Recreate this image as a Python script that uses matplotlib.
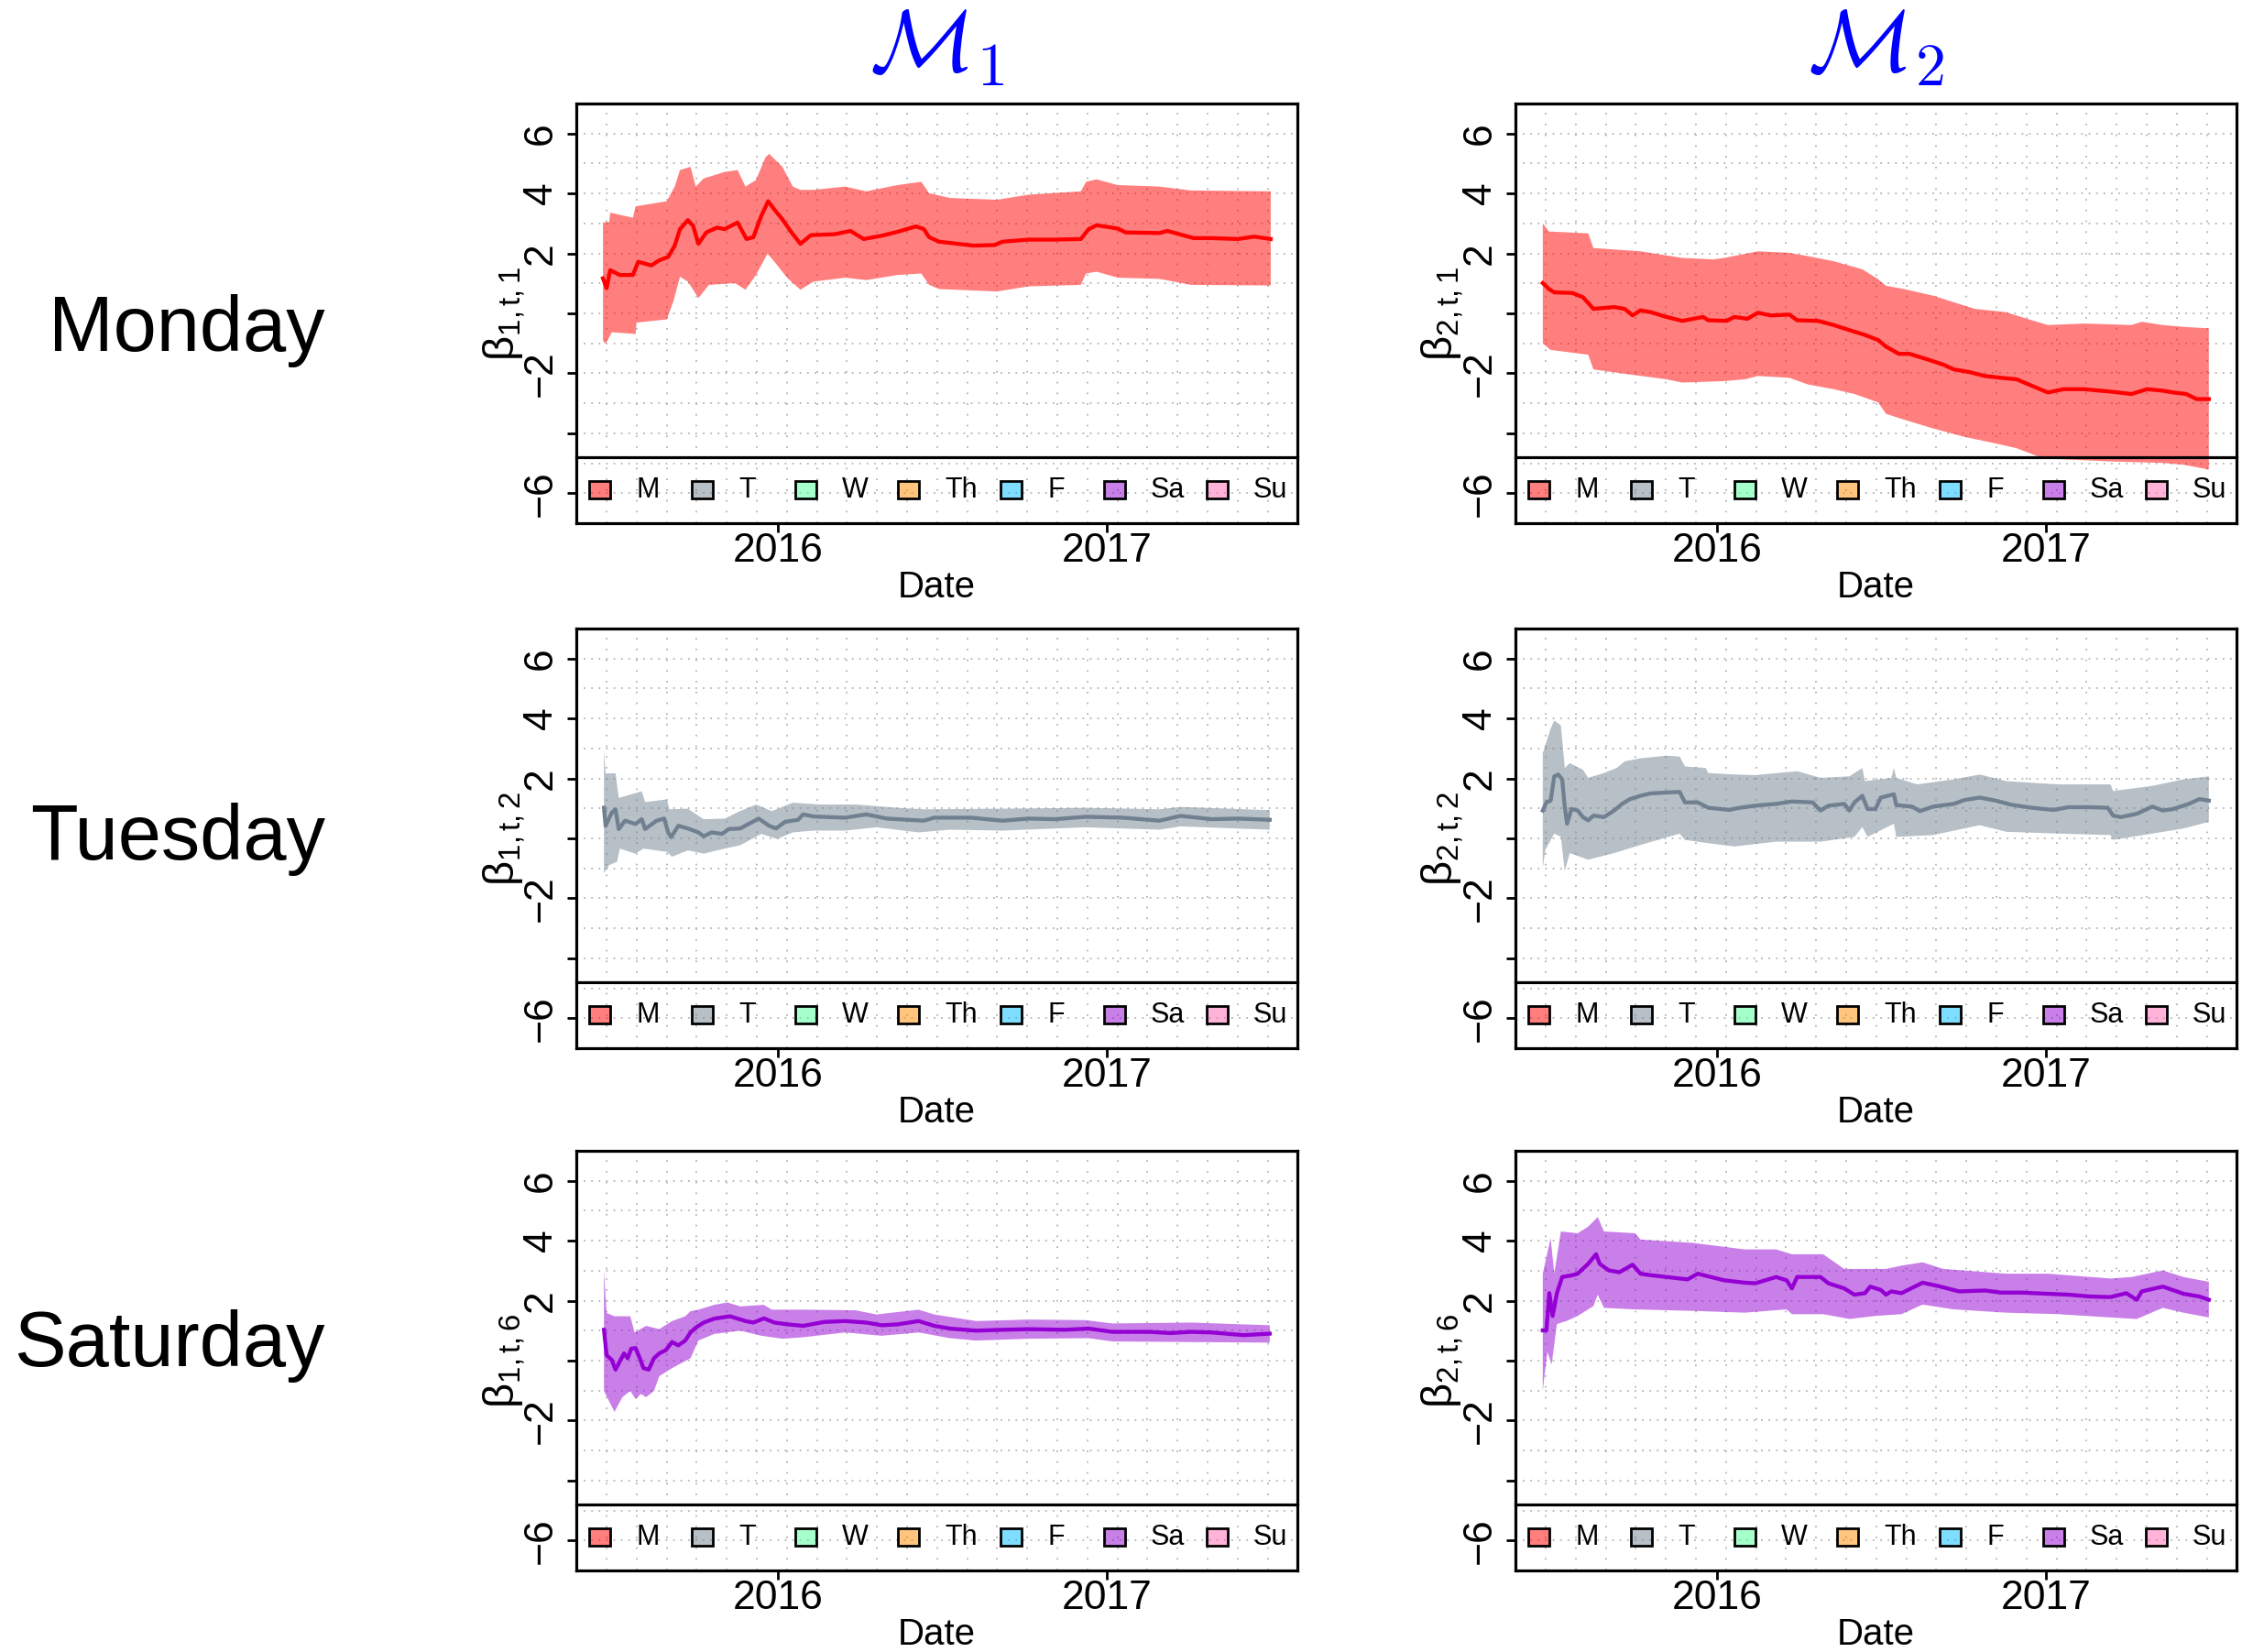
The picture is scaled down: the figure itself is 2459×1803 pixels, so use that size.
import numpy as np
import matplotlib
matplotlib.use("Agg")
import matplotlib.pyplot as plt
from matplotlib.patches import Rectangle

plt.rcParams['font.family'] = ['Liberation Sans', 'DejaVu Sans']
plt.rcParams['mathtext.fontset'] = 'custom'
plt.rcParams['mathtext.rm'] = 'Liberation Sans'
plt.rcParams['mathtext.it'] = 'Liberation Sans:italic'
plt.rcParams['axes.unicode_minus'] = True

# ---------------------------------------------------------------------------
# Posterior mean and 95% band of the day-of-week coefficients (time in years)
# ---------------------------------------------------------------------------

# Model 1, Monday
m1_mon_t = [2015.468, 2015.479, 2015.490, 2015.519, 2015.559, 2015.575, 2015.615, 2015.639,
            2015.666, 2015.686, 2015.702, 2015.726, 2015.742, 2015.758, 2015.782, 2015.814,
            2015.838, 2015.877, 2015.904, 2015.925, 2015.949, 2015.970, 2015.989, 2016.013,
            2016.041, 2016.068, 2016.100, 2016.172, 2016.220, 2016.260, 2016.315, 2016.363,
            2016.419, 2016.443, 2016.459, 2016.490, 2016.522, 2016.594, 2016.658, 2016.682,
            2016.761, 2016.841, 2016.920, 2016.944, 2016.968, 2017.032, 2017.056, 2017.159,
            2017.183, 2017.263, 2017.318, 2017.398, 2017.446, 2017.497]
m1_mon_mean = [1.17, 0.84, 1.44, 1.28, 1.28, 1.72, 1.60, 1.77,
               1.88, 2.26, 2.81, 3.11, 2.92, 2.32, 2.70, 2.86,
               2.81, 3.03, 2.48, 2.54, 3.25, 3.74, 3.46, 3.14,
               2.70, 2.32, 2.61, 2.64, 2.75, 2.48, 2.59, 2.72,
               2.90, 2.81, 2.54, 2.39, 2.35, 2.26, 2.28, 2.39,
               2.46, 2.46, 2.48, 2.81, 2.94, 2.83, 2.70, 2.68,
               2.75, 2.51, 2.51, 2.48, 2.56, 2.48]
m1_mon_hi_t = [2015.468, 2015.487, 2015.490, 2015.559, 2015.567, 2015.662, 2015.686, 2015.702,
               2015.734, 2015.750, 2015.774, 2015.838, 2015.877, 2015.901, 2015.933, 2015.962,
               2015.973, 2016.013, 2016.045, 2016.068, 2016.108, 2016.204, 2016.268, 2016.363,
               2016.435, 2016.459, 2016.522, 2016.666, 2016.761, 2016.920, 2016.936, 2016.968,
               2017.032, 2017.159, 2017.255, 2017.497]
m1_mon_hi = [3.03, 3.05, 3.36, 3.19, 3.57, 3.74, 4.23, 4.78,
             4.89, 4.23, 4.50, 4.72, 4.78, 4.23, 4.45, 5.21,
             5.32, 4.89, 4.23, 4.12, 4.12, 4.23, 4.07, 4.28,
             4.39, 4.01, 3.85, 3.79, 3.96, 4.07, 4.39, 4.47,
             4.28, 4.23, 4.10, 4.07]
m1_mon_lo_t = [2015.468, 2015.476, 2015.495, 2015.567, 2015.570, 2015.662, 2015.682, 2015.702,
               2015.726, 2015.758, 2015.790, 2015.869, 2015.901, 2015.933, 2015.968, 2015.989,
               2016.029, 2016.068, 2016.108, 2016.204, 2016.268, 2016.363, 2016.435, 2016.459,
               2016.490, 2016.666, 2016.761, 2016.920, 2016.936, 2016.968, 2017.032, 2017.159,
               2017.255, 2017.497]
m1_mon_lo = [-0.91, -1.02, -0.63, -0.69, -0.31, -0.20, 0.40, 1.22,
             1.06, 0.51, 0.95, 1.01, 0.79, 1.28, 1.99, 1.72,
             1.17, 0.79, 1.06, 1.19, 1.11, 1.28, 1.33, 0.95,
             0.81, 0.73, 0.90, 0.95, 1.33, 1.39, 1.19, 1.15,
             0.95, 0.93]

# Model 2, Monday
m2_mon_t = [2015.470, 2015.489, 2015.505, 2015.560, 2015.592, 2015.624, 2015.687, 2015.719,
            2015.743, 2015.767, 2015.798, 2015.846, 2015.894, 2015.957, 2015.973, 2016.029,
            2016.052, 2016.092, 2016.124, 2016.163, 2016.219, 2016.243, 2016.306, 2016.354,
            2016.402, 2016.449, 2016.489, 2016.513, 2016.552, 2016.584, 2016.640, 2016.687,
            2016.719, 2016.767, 2016.814, 2016.862, 2016.910, 2016.957, 2017.005, 2017.052,
            2017.116, 2017.163, 2017.195, 2017.259, 2017.306, 2017.354, 2017.386, 2017.425,
            2017.457, 2017.494]
m2_mon_mean = [1.01, 0.81, 0.70, 0.68, 0.54, 0.15, 0.21, 0.15,
               -0.07, 0.10, 0.04, -0.12, -0.25, -0.12, -0.23, -0.25,
               -0.12, -0.18, 0.02, -0.07, -0.04, -0.23, -0.25, -0.39,
               -0.56, -0.72, -0.89, -1.11, -1.35, -1.35, -1.54, -1.71,
               -1.87, -1.96, -2.09, -2.15, -2.20, -2.42, -2.64, -2.53,
               -2.53, -2.58, -2.61, -2.69, -2.53, -2.58, -2.64, -2.69,
               -2.86, -2.86]
m2_mon_hi_t = [2015.470, 2015.489, 2015.608, 2015.624, 2015.767, 2015.894, 2015.989, 2016.021,
               2016.124, 2016.219, 2016.275, 2016.354, 2016.441, 2016.489, 2016.513, 2016.568,
               2016.656, 2016.719, 2016.783, 2016.878, 2016.941, 2017.005, 2017.116, 2017.259,
               2017.290, 2017.354, 2017.417, 2017.494]
m2_mon_hi = [3.00, 2.73, 2.67, 2.18, 2.07, 1.85, 1.80, 1.85,
             2.07, 2.02, 1.91, 1.74, 1.47, 1.14, 0.92, 0.81,
             0.59, 0.37, 0.15, 0.04, -0.18, -0.39, -0.34, -0.39,
             -0.28, -0.39, -0.45, -0.50]
m2_mon_lo_t = [2015.470, 2015.494, 2015.608, 2015.624, 2015.735, 2015.846, 2015.894, 2016.021,
               2016.084, 2016.124, 2016.219, 2016.275, 2016.354, 2016.417, 2016.489, 2016.513,
               2016.560, 2016.656, 2016.751, 2016.846, 2016.910, 2016.989, 2017.037, 2017.195,
               2017.354, 2017.417, 2017.494]
m2_mon_lo = [-1.00, -1.22, -1.38, -1.87, -2.04, -2.20, -2.31, -2.26,
             -2.20, -2.09, -2.15, -2.37, -2.53, -2.69, -2.97, -3.35,
             -3.52, -3.84, -4.12, -4.34, -4.50, -4.83, -4.86, -4.94,
             -4.99, -5.05, -5.21]

# Model 1, Tuesday
m1_tue_t = [2015.471, 2015.476, 2015.495, 2015.506, 2015.516, 2015.535, 2015.567, 2015.586,
            2015.596, 2015.631, 2015.654, 2015.666, 2015.675, 2015.697, 2015.726, 2015.758,
            2015.774, 2015.798, 2015.830, 2015.850, 2015.885, 2015.941, 2015.973, 2015.994,
            2016.021, 2016.061, 2016.076, 2016.108, 2016.204, 2016.268, 2016.331, 2016.395,
            2016.443, 2016.475, 2016.586, 2016.682, 2016.761, 2016.841, 2016.936, 2017.048,
            2017.159, 2017.223, 2017.318, 2017.398, 2017.494]
m1_tue_mean = [1.02, 0.42, 0.86, 0.97, 0.31, 0.59, 0.48, 0.64,
               0.31, 0.59, 0.66, 0.20, 0.04, 0.42, 0.33, 0.20,
               0.07, 0.20, 0.15, 0.31, 0.33, 0.66, 0.42, 0.33,
               0.55, 0.62, 0.80, 0.73, 0.69, 0.80, 0.66, 0.62,
               0.59, 0.69, 0.69, 0.59, 0.66, 0.64, 0.72, 0.69,
               0.59, 0.75, 0.64, 0.66, 0.62]
m1_tue_hi_t = [2015.471, 2015.476, 2015.506, 2015.516, 2015.551, 2015.586, 2015.596, 2015.662,
               2015.670, 2015.726, 2015.774, 2015.838, 2015.885, 2015.933, 2015.981, 2016.045,
               2016.124, 2016.236, 2016.363, 2016.443, 2016.682, 2016.936, 2017.159, 2017.223,
               2017.494]
m1_tue_hi = [2.93, 2.17, 2.17, 1.35, 1.46, 1.57, 1.21, 1.30,
             0.97, 0.99, 0.64, 0.66, 0.91, 1.13, 0.91, 1.19,
             1.13, 1.13, 1.02, 0.97, 0.99, 1.02, 0.97, 1.05,
             0.94]
m1_tue_lo_t = [2015.471, 2015.487, 2015.511, 2015.519, 2015.567, 2015.591, 2015.662, 2015.678,
               2015.726, 2015.774, 2015.838, 2015.885, 2015.949, 2015.997, 2016.045, 2016.108,
               2016.204, 2016.299, 2016.427, 2016.522, 2016.682, 2016.936, 2017.159, 2017.223,
               2017.494]
m1_tue_lo = [-1.16, -0.89, -0.78, -0.34, -0.51, -0.34, -0.45, -0.61,
             -0.40, -0.51, -0.34, -0.23, 0.15, -0.02, 0.20, 0.26,
             0.26, 0.37, 0.20, 0.29, 0.26, 0.37, 0.29, 0.40,
             0.29]

# Model 2, Tuesday
m2_tue_t = [2015.470, 2015.481, 2015.494, 2015.505, 2015.517, 2015.529, 2015.537, 2015.544,
            2015.557, 2015.576, 2015.592, 2015.608, 2015.624, 2015.656, 2015.687, 2015.711,
            2015.735, 2015.767, 2015.798, 2015.846, 2015.886, 2015.902, 2015.941, 2015.973,
            2016.037, 2016.068, 2016.116, 2016.179, 2016.227, 2016.290, 2016.314, 2016.338,
            2016.386, 2016.402, 2016.417, 2016.441, 2016.457, 2016.481, 2016.497, 2016.537,
            2016.544, 2016.592, 2016.616, 2016.656, 2016.719, 2016.751, 2016.798, 2016.846,
            2016.894, 2016.957, 2017.021, 2017.068, 2017.132, 2017.187, 2017.203, 2017.227,
            2017.275, 2017.322, 2017.354, 2017.386, 2017.433, 2017.465, 2017.494]
m2_tue_mean = [0.93, 1.20, 1.26, 2.07, 2.13, 1.97, 1.04, 0.49,
               0.98, 0.93, 0.71, 0.60, 0.76, 0.71, 0.93, 1.15,
               1.31, 1.42, 1.50, 1.53, 1.55, 1.20, 1.20, 1.02,
               0.95, 1.02, 1.09, 1.15, 1.23, 1.20, 0.93, 1.09,
               1.15, 0.93, 1.20, 1.42, 0.98, 0.98, 1.36, 1.47,
               1.11, 1.06, 0.91, 1.06, 1.15, 1.28, 1.36, 1.26,
               1.12, 1.02, 0.95, 1.04, 1.04, 1.02, 0.76, 0.71,
               0.82, 1.06, 0.93, 0.98, 1.15, 1.31, 1.26]
m2_tue_hi_t = [2015.470, 2015.494, 2015.505, 2015.525, 2015.537, 2015.552, 2015.592, 2015.608,
               2015.656, 2015.695, 2015.719, 2015.767, 2015.846, 2015.886, 2015.902, 2015.965,
               2015.973, 2016.052, 2016.116, 2016.243, 2016.314, 2016.402, 2016.441, 2016.449,
               2016.529, 2016.537, 2016.544, 2016.608, 2016.719, 2016.798, 2016.878, 2017.037,
               2017.195, 2017.203, 2017.322, 2017.417, 2017.494]
m2_tue_hi = [2.84, 3.66, 3.93, 3.77, 2.35, 2.51, 2.29, 2.02,
             2.18, 2.35, 2.57, 2.67, 2.76, 2.73, 2.40, 2.35,
             2.18, 2.13, 2.11, 2.24, 2.02, 2.07, 2.35, 1.91,
             2.02, 2.35, 2.02, 1.80, 1.97, 2.13, 1.91, 1.80,
             1.80, 1.58, 1.75, 1.97, 2.07]
m2_tue_lo_t = [2015.470, 2015.478, 2015.505, 2015.525, 2015.537, 2015.552, 2015.608, 2015.687,
               2015.767, 2015.886, 2015.902, 2015.973, 2016.052, 2016.179, 2016.314, 2016.417,
               2016.441, 2016.457, 2016.537, 2016.544, 2016.656, 2016.798, 2016.878, 2017.037,
               2017.195, 2017.203, 2017.322, 2017.417, 2017.494]
m2_tue_lo = [-0.98, -0.38, 0.16, 0.05, -1.09, -0.49, -0.71, -0.49,
             -0.22, 0.16, -0.05, -0.16, -0.27, -0.11, -0.11, 0.05,
             0.38, 0.05, 0.49, 0.05, 0.11, 0.44, 0.22, 0.16,
             0.11, -0.05, 0.16, 0.33, 0.55]

# Model 1, Saturday
m1_sat_t = [2015.471, 2015.479, 2015.495, 2015.506, 2015.519, 2015.532, 2015.543, 2015.554,
            2015.567, 2015.580, 2015.591, 2015.607, 2015.623, 2015.639, 2015.659, 2015.678,
            2015.697, 2015.718, 2015.734, 2015.750, 2015.774, 2015.806, 2015.854, 2015.901,
            2015.925, 2015.957, 2015.989, 2016.029, 2016.076, 2016.140, 2016.204, 2016.268,
            2016.315, 2016.363, 2016.427, 2016.475, 2016.522, 2016.602, 2016.682, 2016.761,
            2016.873, 2016.944, 2017.016, 2017.127, 2017.191, 2017.255, 2017.318, 2017.414,
            2017.494]
m1_sat_mean = [1.03, 0.18, 0.02, -0.30, -0.03, 0.24, 0.08, 0.40,
               0.42, 0.08, -0.25, -0.30, 0.08, 0.24, 0.35, 0.62,
               0.51, 0.67, 0.94, 1.10, 1.27, 1.40, 1.48, 1.32,
               1.27, 1.41, 1.27, 1.21, 1.16, 1.29, 1.32, 1.27,
               1.18, 1.21, 1.32, 1.16, 1.07, 1.00, 1.03, 1.05,
               1.03, 1.07, 0.96, 0.96, 0.92, 0.96, 0.94, 0.85,
               0.90]
m1_sat_hi_t = [2015.471, 2015.479, 2015.503, 2015.551, 2015.564, 2015.599, 2015.639, 2015.678,
               2015.718, 2015.734, 2015.758, 2015.806, 2015.846, 2015.885, 2015.957, 2015.981,
               2016.076, 2016.236, 2016.299, 2016.427, 2016.475, 2016.602, 2016.761, 2016.936,
               2017.016, 2017.255, 2017.494]
m1_sat_hi = [3.00, 1.59, 1.48, 1.48, 0.94, 1.16, 1.05, 1.32,
             1.48, 1.65, 1.70, 1.86, 1.94, 1.81, 1.86, 1.70,
             1.70, 1.68, 1.54, 1.70, 1.54, 1.32, 1.37, 1.35,
             1.24, 1.27, 1.18]
m1_sat_lo_t = [2015.471, 2015.503, 2015.527, 2015.551, 2015.567, 2015.583, 2015.599, 2015.623,
               2015.639, 2015.678, 2015.734, 2015.758, 2015.806, 2015.885, 2015.949, 2016.013,
               2016.076, 2016.204, 2016.315, 2016.427, 2016.522, 2016.602, 2016.761, 2016.944,
               2017.016, 2017.255, 2017.494]
m1_sat_lo = [-1.01, -1.71, -1.22, -1.01, -1.28, -1.11, -1.22, -1.01,
             -0.52, -0.25, 0.08, 0.67, 0.89, 1.00, 0.83, 0.73,
             0.78, 0.94, 0.83, 0.94, 0.75, 0.67, 0.73, 0.75,
             0.64, 0.62, 0.60]

# Model 2, Saturday
m2_sat_t = [2015.470, 2015.481, 2015.490, 2015.500, 2015.513, 2015.529, 2015.560, 2015.576,
            2015.608, 2015.632, 2015.643, 2015.671, 2015.703, 2015.743, 2015.767, 2015.798,
            2015.846, 2015.910, 2015.941, 2016.021, 2016.084, 2016.116, 2016.179, 2016.211,
            2016.227, 2016.243, 2016.314, 2016.338, 2016.386, 2016.417, 2016.449, 2016.465,
            2016.497, 2016.513, 2016.529, 2016.560, 2016.624, 2016.671, 2016.735, 2016.814,
            2016.862, 2016.925, 2017.005, 2017.068, 2017.132, 2017.195, 2017.243, 2017.275,
            2017.290, 2017.354, 2017.417, 2017.465, 2017.494]
m2_sat_mean = [1.01, 1.01, 2.25, 1.49, 2.25, 2.79, 2.85, 2.90,
               3.23, 3.55, 3.23, 3.01, 2.95, 3.20, 2.90, 2.85,
               2.79, 2.71, 2.90, 2.68, 2.60, 2.58, 2.79, 2.68,
               2.41, 2.79, 2.79, 2.58, 2.41, 2.20, 2.25, 2.47,
               2.36, 2.20, 2.31, 2.25, 2.60, 2.49, 2.31, 2.34,
               2.27, 2.27, 2.23, 2.20, 2.14, 2.12, 2.25, 2.03,
               2.31, 2.47, 2.23, 2.14, 2.03]
m2_sat_hi_t = [2015.470, 2015.494, 2015.505, 2015.525, 2015.576, 2015.608, 2015.637, 2015.656,
               2015.751, 2015.767, 2015.925, 2016.084, 2016.179, 2016.227, 2016.322, 2016.386,
               2016.513, 2016.560, 2016.624, 2016.687, 2016.878, 2017.005, 2017.195, 2017.259,
               2017.354, 2017.417, 2017.494]
m2_sat_hi = [2.90, 4.09, 2.90, 4.31, 4.25, 4.47, 4.79, 4.31,
             4.25, 4.04, 3.93, 3.71, 3.71, 3.55, 3.55, 3.06,
             3.06, 3.17, 3.28, 3.06, 2.90, 2.90, 2.74, 2.79,
             3.01, 2.79, 2.63]
m2_sat_lo_t = [2015.470, 2015.484, 2015.497, 2015.513, 2015.544, 2015.576, 2015.624, 2015.637,
               2015.656, 2015.751, 2015.925, 2016.084, 2016.211, 2016.227, 2016.322, 2016.402,
               2016.481, 2016.560, 2016.624, 2016.719, 2016.878, 2017.037, 2017.195, 2017.275,
               2017.354, 2017.417, 2017.494]
m2_sat_lo = [-1.00, 0.30, -0.13, 1.22, 1.33, 1.49, 1.82, 2.20,
             1.76, 1.71, 1.66, 1.60, 1.71, 1.55, 1.55, 1.39,
             1.49, 1.55, 1.87, 1.71, 1.60, 1.55, 1.44, 1.39,
             1.76, 1.60, 1.44]

# Legend entries and colours
day_labels = ['M', 'T', 'W', 'Th', 'F', 'Sa', 'Su']
day_colours = ['#ff0000', '#708090', '#4cff99', '#ff8c00', '#00bfff', '#9400d3', '#ff69b4']

row_names = ['Monday', 'Tuesday', 'Saturday']
col_titles = [r'$\mathcal{M}_1$', r'$\mathcal{M}_2$']
day_index = [1, 2, 6]
year_ticks = [2016, 2017]

panels = [
    [(m1_mon_t, m1_mon_mean, m1_mon_hi_t, m1_mon_hi, m1_mon_lo_t, m1_mon_lo),
     (m2_mon_t, m2_mon_mean, m2_mon_hi_t, m2_mon_hi, m2_mon_lo_t, m2_mon_lo)],
    [(m1_tue_t, m1_tue_mean, m1_tue_hi_t, m1_tue_hi, m1_tue_lo_t, m1_tue_lo),
     (m2_tue_t, m2_tue_mean, m2_tue_hi_t, m2_tue_hi, m2_tue_lo_t, m2_tue_lo)],
    [(m1_sat_t, m1_sat_mean, m1_sat_hi_t, m1_sat_hi, m1_sat_lo_t, m1_sat_lo),
     (m2_sat_t, m2_sat_mean, m2_sat_hi_t, m2_sat_hi, m2_sat_lo_t, m2_sat_lo)],
]

# ---------------------------------------------------------------------------
W, H = 2459, 1803
fig = plt.figure(figsize=(W / 100, H / 100), dpi=100)

col_x0 = [629 / W, 1654 / W]
ax_w = 787 / W
ax_h = 458 / H
row_top = [113, 686, 1256]
row_baseline = [383, 938, 1491]

grid_col = '#b4b4b4'
legend_top = 0.157
xlim = (2015.387, 2017.578)
v_grid = np.linspace(2015.479, 2017.488, 23)


def alpha_colour(c, a=0.5):
    rgb = matplotlib.colors.to_rgb(c)
    return (*rgb, a)


for r in range(3):
    for c in range(2):
        t, mean, hi_t, hi, lo_t, lo = panels[r][c]
        colour = day_colours[day_index[r] - 1]
        ax = fig.add_axes([col_x0[c], 1 - (row_top[r] + 458) / H, ax_w, ax_h])

        # dotted background grid
        for yv in range(-6, 7):
            ax.axhline(yv, color=grid_col, lw=1.3, ls=(0, (1, 3.5)), zorder=0)
        for xv in v_grid:
            ax.axvline(xv, color=grid_col, lw=1.3, ls=(0, (1, 5.5)), zorder=0)

        # credible band and posterior mean
        ax.fill(np.concatenate([hi_t, lo_t[::-1]]),
                np.concatenate([hi, lo[::-1]]),
                color=alpha_colour(colour), lw=0, zorder=1)
        ax.plot(t, mean, color=colour, lw=3.1, zorder=2, solid_joinstyle='round')

        ax.set_xlim(*xlim)
        ax.set_ylim(-7, 7)
        ax.set_xticks(year_ticks)
        ax.set_xticklabels([str(y) for y in year_ticks])
        ax.set_yticks([-6, -4, -2, 0, 2, 4, 6])
        ax.set_yticklabels(['\u22126', '', '\u22122', '', '2', '4', '6'])
        ax.tick_params(axis='both', direction='out', length=7, width=2,
                       labelsize=32, color='black')
        ax.tick_params(axis='y', labelrotation=90, pad=6)
        ax.tick_params(axis='x', pad=0.5)
        for lab in ax.get_yticklabels():
            lab.set_va('center')
        for sp in ax.spines.values():
            sp.set_linewidth(2.3)

        ax.set_xlabel('Date', fontsize=29, labelpad=0)
        ax.set_ylabel(r'$\mathrm{\beta}_{\mathrm{%d,t,%d}}$' % (c + 1, day_index[r]),
                      fontsize=34, labelpad=-4)

        # legend strip along the bottom of the panel
        ax.plot([0, 1], [legend_top, legend_top], transform=ax.transAxes,
                color='black', lw=2.3, zorder=5, clip_on=False)
        for k, (lab, dc) in enumerate(zip(day_labels, day_colours)):
            x0 = 0.0178 + 0.1427 * k
            ax.add_patch(Rectangle((x0, 0.0786 - 0.0207), 0.0292, 0.0415,
                                   transform=ax.transAxes, facecolor=alpha_colour(dc),
                                   edgecolor='black', lw=2.0, zorder=6))
            ax.text(x0 + 0.0648, 0.0786, lab, transform=ax.transAxes,
                    ha='left', va='center', fontsize=22, zorder=6)

        if r == 0:
            fig.text(col_x0[c] + ax_w / 2, 1 - 78 / H, col_titles[c],
                     ha='center', va='baseline', fontsize=68, color='#0000ff',
                     math_fontfamily='cm')

    fig.text(355 / W, 1 - row_baseline[r] / H, row_names[r],
             ha='right', va='baseline', fontsize=61)

fig.savefig('out.png', dpi=100)
